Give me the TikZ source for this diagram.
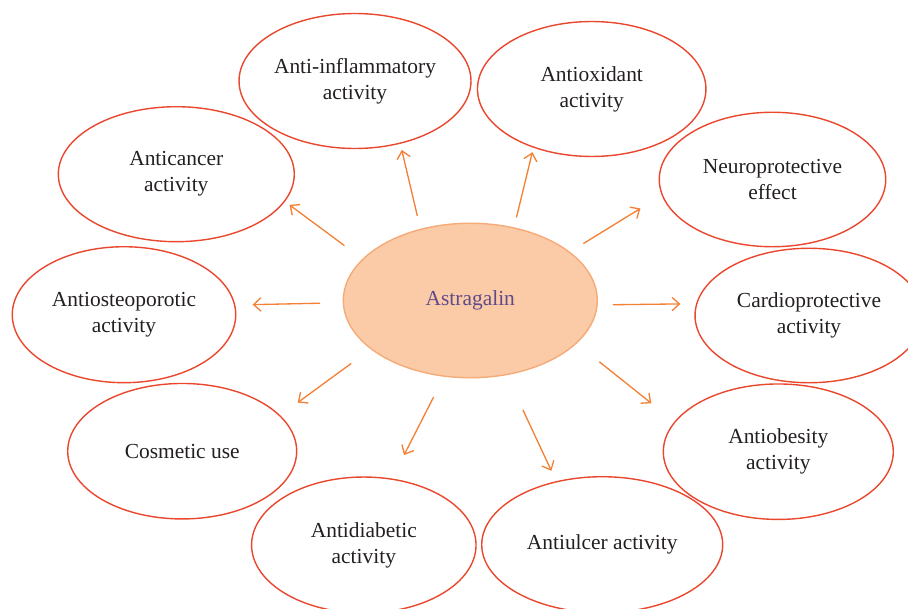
\documentclass[tikz,border=0pt]{standalone}
\usepackage{fontspec}
\setmainfont{Liberation Serif}
\usetikzlibrary{positioning,shapes.geometric,arrows.meta}
\definecolor{bubred}{RGB}{234,72,46}
\definecolor{arrorange}{RGB}{243,128,52}
\definecolor{hubfill}{RGB}{251,203,168}
\definecolor{hubline}{RGB}{246,170,120}
\definecolor{hubtext}{RGB}{96,74,138}
\definecolor{txtgray}{RGB}{35,31,32}
\tikzset{
  bub/.style 2 args={ellipse, draw=bubred, line width=0.8pt, inner sep=0pt, outer sep=0pt,
    minimum width=#1, minimum height=#2, align=center, text=txtgray,
    font=\fontsize{12.2}{14.8}\selectfont},
  arr/.style={draw=arrorange, line width=0.75pt, -{Straight Barb[length=4.2pt,width=7.6pt]}},
}

\begin{document}
\begin{tikzpicture}[x=0.02cm, y=-0.02cm]
  \useasboundingbox (0,0) rectangle (908,608);
  \clip (0,0) rectangle (908,608);
  \node[name=hub, bub={5.08cm}{3.09cm}, fill=hubfill, draw=hubline, text=hubtext] at (470.3,300.5) {Astragalin};
  \node[name=antiinf,  bub={4.64cm}{2.70cm}] at (355,81)      {Anti-inflammatory\\activity};
  \node[name=antiox,   bub={4.57cm}{2.70cm}] at (591.7,89)    {Antioxidant\\activity};
  \node[name=neuro,    bub={4.53cm}{2.69cm}] at (772.5,179.5) {Neuroprotective\\effect};
  \node[name=cardio,   bub={4.56cm}{2.69cm}] at (809,315.5)   {Cardioprotective\\activity};
  \node[name=antiob,   bub={4.60cm}{2.71cm}] at (778.3,451.7) {Antiobesity\\activity};
  \node[name=antiulc,  bub={4.82cm}{2.72cm}] at (602.2,544.7) {Antiulcer activity};
  \node[name=antidiab, bub={4.49cm}{2.72cm}] at (363.8,545)   {Antidiabetic\\activity};
  \node[name=cosm,     bub={4.58cm}{2.71cm}] at (182.2,451.2) {Cosmetic use};
  \node[name=antiost,  bub={4.47cm}{2.72cm}] at (124,314.7)   {Antiosteoporotic\\activity};
  \node[name=anticanc, bub={4.72cm}{2.70cm}] at (176.3,174.2) {Anticancer\\activity};

  \draw[arr, shorten <=0.28cm,  shorten >=0.14cm]  (hub.125.5) -- (antiinf.-54);
  \draw[arr, shorten <=0.216cm, shorten >=0.104cm] (hub.59.6)  -- (antiox.225.3);
  \draw[arr, shorten <=0.328cm, shorten >=0.514cm] (hub.26.5)  -- (neuro.188.7);
  \draw[arr, shorten <=0.318cm, shorten >=0.328cm] (hub.-2.95) -- (cardio.174.65);
  \draw[arr, shorten <=0.596cm, shorten >=0.604cm] (hub.-22.7) -- (antiob.164.4);
  \draw[arr, shorten <=0.778cm, shorten >=0.244cm] (hub.-64.7) -- (antiulc.126.9);
  \draw[arr, shorten <=0.47cm,  shorten >=0.542cm] (hub.251.4) -- (antidiab.67.2);
  \draw[arr, shorten <=0.498cm, shorten >=0.446cm] (hub.206.6) -- (cosm.20.9);
  \draw[arr, shorten <=0.468cm, shorten >=0.36cm]  (hub.181.6) -- (antiost.5.5);
  \draw[arr, shorten <=0.46cm,  shorten >=0.126cm] (hub.159.9) -- (anticanc.-14.2);
\end{tikzpicture}
\end{document}
